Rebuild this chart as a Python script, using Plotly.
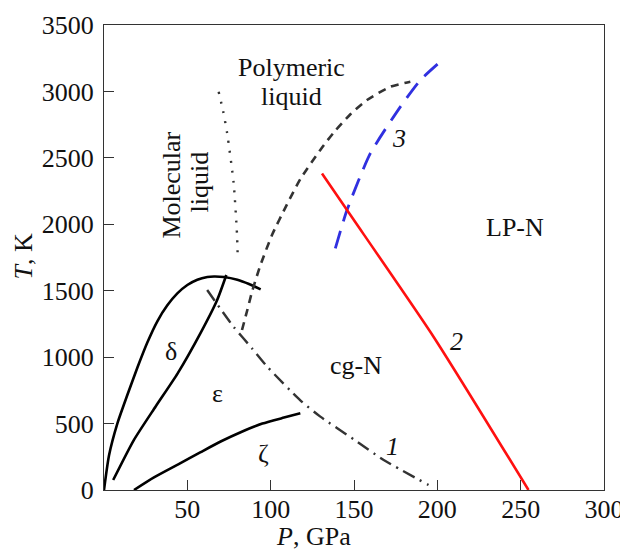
import plotly.graph_objects as go

# delta / liquid boundary (solid)
melt_P = [0, 3, 8, 14, 20, 26, 32, 38, 44, 50, 56, 62, 66, 72, 80, 87, 94]
melt_T = [0, 260, 500, 715, 920, 1110, 1270, 1390, 1480, 1543, 1583, 1603, 1607, 1603, 1582, 1550, 1510]
# delta / epsilon boundary (solid)
de_P = [5.5, 17.9, 30.9, 44.2, 57.9, 67.9, 73.4]
de_T = [75, 376, 627, 878, 1181, 1430, 1618]
# epsilon / zeta boundary (solid)
ez_P = [18, 30, 44.8, 58, 70, 82, 95, 108, 117.8]
ez_T = [0, 95, 195, 285, 365, 435, 500, 545, 577]
# curve 1 (dash-dot)
c1_P = [61.9, 69.4, 77.7, 88.8, 97.8, 117.8, 129.8, 150, 167.8, 194.7]
c1_T = [1505, 1372, 1229, 1066, 930, 675, 552, 380, 226, 38]
# molecular / polymeric liquid (dotted)
dot_P = [68.8, 71.5, 73.9, 77.8, 79.8, 80.2]
dot_T = [2997, 2850, 2684, 2308, 1926, 1768]
# polymeric liquid boundary (black dashed)
pl_P = [82.8, 86, 89, 93.8, 100.8, 109.8, 117.8, 129.8, 137.8, 148, 157.8, 171.8, 183.8]
pl_T = [1204, 1355, 1500, 1690, 1919, 2150, 2340, 2560, 2690, 2830, 2935, 3035, 3073]
# curve 3 (blue dashed)
c3_P = [138.8, 145.8, 159.8, 177.8, 189.8, 202.8]
c3_T = [1818, 2107, 2533, 2884, 3085, 3235]
# curve 2 (red)
c2_P = [130.8, 145.8, 197.7, 254.7]
c2_T = [2383, 2107, 1154, 0]

x_ticks = [50, 100, 150, 200, 250, 300]
y_ticks = [0, 500, 1000, 1500, 2000, 2500, 3000, 3500]

FONT = "Liberation Serif"
fig = go.Figure()

def add(P, T, color, width, dash="solid"):
    fig.add_trace(go.Scatter(x=P, y=T, mode="lines",
                             line=dict(color=color, width=width, dash=dash, shape="spline", smoothing=0.6),
                             hoverinfo="skip", showlegend=False))

add(melt_P, melt_T, "black", 2.6)
add(de_P, de_T, "black", 2.6)
add(ez_P, ez_T, "black", 2.6)
add(c1_P, c1_T, "#333333", 2.4, "13px,6px,2px,6px")
add(dot_P, dot_T, "#333333", 2.4, "2px,8px")
add(pl_P, pl_T, "#333333", 2.6, "8px,6px")
add(c3_P, c3_T, "#3030e0", 2.8, "18px,10px")
add(c2_P, c2_T, "#ff1010", 2.6)

labels = [
    ("Polymeric", 112.4, 3180, False, 0),
    ("liquid", 112.4, 2960, False, 0),
    ("Molecular", 40.5, 2295, False, -90),
    ("liquid", 57.3, 2318, False, -90),
    ("3", 176.7, 2646, True, 0),
    ("LP-N", 246.3, 1979, False, 0),
    ("2", 211.3, 1116, True, 0),
    ("cg-N", 151.4, 940, False, 0),
    ("1", 172.8, 326, True, 0),
    ("δ", 39.9, 1041, False, 0),
    ("ε", 67.9, 728, False, 0),
    ("ζ", 95.8, 276, False, 0),
]
for txt, px, ty, it, ang in labels:
    fig.add_annotation(x=px, y=ty, xref="x", yref="y",
                       text=f"<i>{txt}</i>" if it else txt, showarrow=False,
                       textangle=ang, font=dict(family=FONT, size=26, color="#111111"),
                       xanchor="center", yanchor="middle")

fig.add_annotation(x=-0.161, y=0.501, xref="paper", yref="paper", text="<i>T</i>, K",
                   showarrow=False, textangle=-90, xanchor="center", yanchor="middle",
                   font=dict(family=FONT, size=26, color="#111111"))
fig.add_annotation(x=0.4186, y=-0.101, xref="paper", yref="paper", text="<i>P</i>, GPa",
                   showarrow=False, xanchor="center", yanchor="middle",
                   font=dict(family=FONT, size=26, color="#111111"))

axis_common = dict(showgrid=False, zeroline=False, showline=True, linecolor="#333333", linewidth=1.3,
                   mirror=True, ticks="inside", ticklen=10, tickwidth=1.2, tickcolor="#333333",
                   automargin=False,
                   tickfont=dict(family=FONT, size=26, color="#111111"))
fig.update_xaxes(range=[0, 300], tickvals=x_ticks, ticktext=[str(v) for v in x_ticks],
                 ticklabelstandoff=-4, **axis_common)
fig.update_yaxes(range=[0, 3500], tickvals=y_ticks, ticktext=[str(v) for v in y_ticks],
                 ticklabelstandoff=4, **axis_common)

# page body has an 8px default margin: shift the figure back by that amount
fig.update_layout(width=620, height=545, margin=dict(l=95.5, r=24, t=17, b=63),
                  plot_bgcolor="white", paper_bgcolor="white", showlegend=False)
fig.write_html("out.html")
